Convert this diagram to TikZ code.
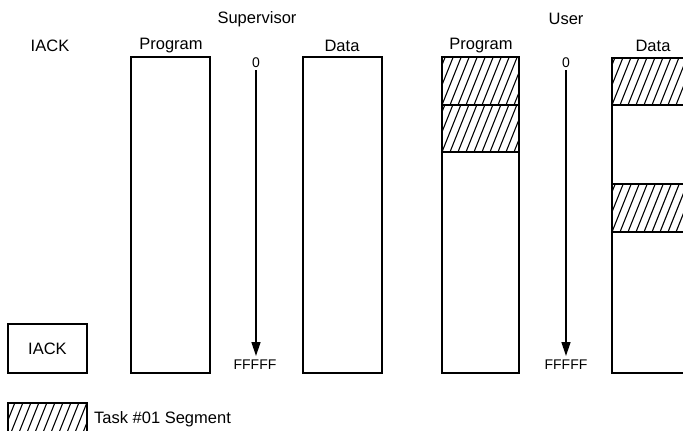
\documentclass[tikz,border=0pt]{standalone}
\usepackage{fontspec}
\setmainfont{Liberation Sans}
\usetikzlibrary{arrows.meta}
\tikzset{
  membox/.style={draw, line width=1.6pt, inner sep=0pt},
  hatchline/.style={line width=1.1pt},
  lbl/.style={font=\fontsize{16.5}{19}\selectfont, inner sep=0pt},
  addr/.style={font=\fontsize{14}{16}\selectfont, inner sep=0pt},
  arr/.style={line width=1.4pt, -{Triangle[length=14pt,width=9pt]}},
}
\newcommand\hatchrect[4]{%
  \begin{scope}
    \clip (#1,#2) rectangle (#3,#4);
    \foreach \k in {-8,...,16} { \draw[hatchline] ({#1+\k*8},#4) -- ++(20,-50); }
  \end{scope}}
\begin{document}
\begin{tikzpicture}[x=1pt,y=-1pt]
\clip (0,0) rectangle (683,431);
\fill[white] (0,0) rectangle (683,431);
% headings
\node[lbl] (sup) at (257,19) {Supervisor};
\node[lbl] (usr) at (566,19) {User};
\node[lbl] (iackh) at (50,46) {IACK};
\node[lbl] (sph) at (171,46) {Program};
\node[lbl] (sdh) at (342,46) {Data};
\node[lbl] (uph) at (481,46) {Program};
\node[lbl] (udh) at (653,46) {Data};
% hatching
\hatchrect{442}{57}{519}{105}
\hatchrect{442}{105}{519}{152}
\hatchrect{612}{58}{700}{105}
\hatchrect{612}{184}{700}{232}
\hatchrect{8}{403}{87}{440}
% boxes
\draw[membox] (131,57) rectangle (210,373);
\draw[membox] (303,57) rectangle (382,373);
\draw[membox] (442,57) rectangle (519,373);
\draw[membox] (442,105) -- (519,105);
\draw[membox] (442,152) -- (519,152);
\draw[membox] (612,58) rectangle (700,373);
\draw[membox] (612,105) -- (700,105);
\draw[membox] (612,184) -- (700,184);
\draw[membox] (612,232) -- (700,232);
\draw[membox] (8,324) rectangle (87,373);
\draw[membox] (8,403) rectangle (87,440);
\node[lbl] (iack) at (47.5,348.5) {IACK};
% address arrows
\node[addr] (z1) at (256,63) {0};
\node[addr] (f1) at (255,365) {FFFFF};
\node[addr] (z2) at (566,63) {0};
\node[addr] (f2) at (566,365) {FFFFF};
\coordinate (a1s) at (256,70);
\coordinate (a1e) at (256,356);
\coordinate (a2s) at (566,70);
\coordinate (a2e) at (566,356);
\draw[arr] (a1s) -- (a1e);
\draw[arr] (a2s) -- (a2e);
% legend
\node[lbl, anchor=west] (leg) at (94,419) {Task \#01 Segment};
\end{tikzpicture}
\end{document}
